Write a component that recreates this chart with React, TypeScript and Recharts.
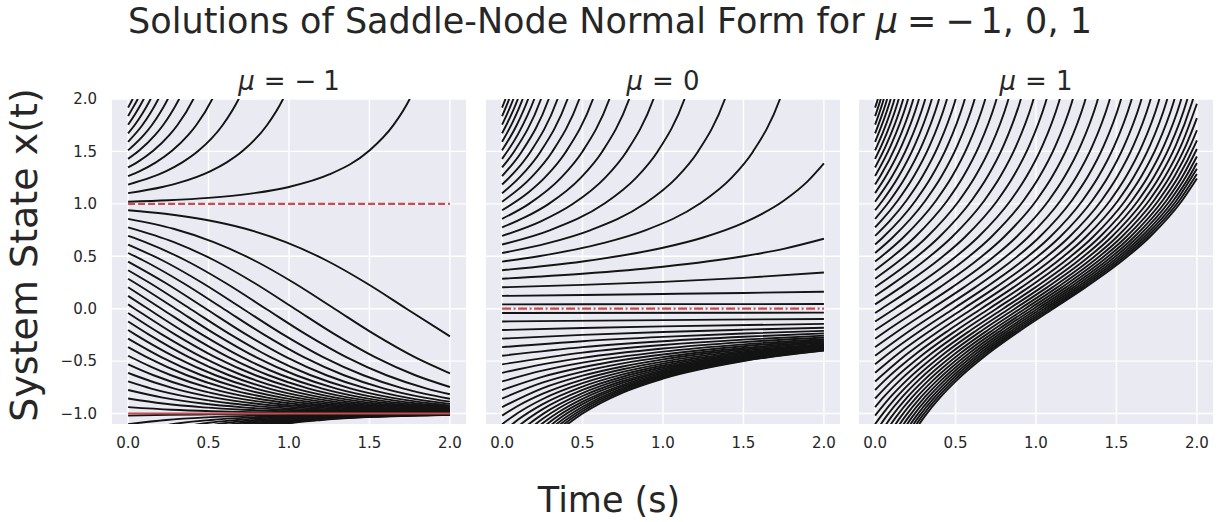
import { LineChart, Line, XAxis, YAxis, CartesianGrid } from 'recharts';

// each curve is a list of [t, x] points
const muMinusCurves = [
  [[0.851, -1.135], [0.951, -1.105], [1.201, -1.062], [1.451, -1.037], [1.951, -1.014], [2, -1.012]],
  [[0.822, -1.135], [0.922, -1.105], [1.172, -1.062], [1.422, -1.037], [1.922, -1.014], [2, -1.012]],
  [[0.79, -1.135], [0.89, -1.105], [1.14, -1.062], [1.39, -1.037], [1.89, -1.014], [2, -1.011]],
  [[0.753, -1.135], [0.853, -1.105], [1.103, -1.062], [1.353, -1.037], [1.853, -1.014], [2, -1.01]],
  [[0.71, -1.135], [0.81, -1.105], [1.06, -1.062], [1.31, -1.037], [1.81, -1.014], [2, -1.009]],
  [[0.662, -1.135], [0.762, -1.105], [1.012, -1.062], [1.262, -1.037], [1.762, -1.014], [2, -1.008]],
  [[0.603, -1.135], [0.703, -1.105], [0.953, -1.062], [1.203, -1.037], [1.703, -1.014], [2, -1.008]],
  [[0.533, -1.135], [0.633, -1.105], [0.883, -1.062], [1.133, -1.037], [1.633, -1.014], [2, -1.007]],
  [[0.444, -1.135], [0.544, -1.105], [0.794, -1.062], [1.044, -1.037], [1.544, -1.014], [2, -1.005]],
  [[0.327, -1.135], [0.427, -1.105], [0.677, -1.062], [0.927, -1.037], [1.427, -1.014], [1.927, -1.005], [2, -1.004]],
  [[0, -1.184], [0.163, -1.135], [0.263, -1.105], [0.513, -1.062], [0.763, -1.037], [1.263, -1.014], [1.763, -1.005], [2, -1.003]],
  [[0, -1.102], [0.237, -1.062], [0.487, -1.037], [0.987, -1.014], [1.487, -1.005], [2, -1.002]],
  [[0, -1.02], [0.25, -1.012], [0.5, -1.008], [1, -1.003], [2, -1.0]],
  [[0, -0.939], [0.27, -0.964], [0.52, -0.978], [0.77, -0.987], [1.02, -0.992], [1.27, -0.995], [1.77, -0.998], [2, -0.998]],
  [[0, -0.857], [0.218, -0.905], [0.468, -0.941], [0.718, -0.964], [0.968, -0.978], [1.218, -0.987], [1.468, -0.992], [1.718, -0.995], [2, -0.996]],
  [[0, -0.776], [0.215, -0.848], [0.465, -0.905], [0.715, -0.941], [0.965, -0.964], [1.215, -0.978], [1.465, -0.987], [1.715, -0.992], [2, -0.994]],
  [[0, -0.694], [0.144, -0.762], [0.394, -0.848], [0.644, -0.905], [0.894, -0.941], [1.144, -0.964], [1.394, -0.978], [1.644, -0.987], [1.894, -0.992], [2, -0.993]],
  [[0, -0.612], [0.038, -0.635], [0.288, -0.762], [0.538, -0.848], [0.788, -0.905], [1.038, -0.941], [1.288, -0.964], [1.538, -0.978], [1.788, -0.987], [2, -0.991]],
  [[0, -0.531], [0.158, -0.635], [0.408, -0.762], [0.658, -0.848], [0.908, -0.905], [1.158, -0.941], [1.408, -0.964], [1.658, -0.978], [1.908, -0.987], [2, -0.989]],
  [[0, -0.449], [0.133, -0.548], [0.267, -0.635], [0.517, -0.762], [0.767, -0.848], [1.017, -0.905], [1.267, -0.941], [1.517, -0.964], [1.767, -0.978], [2, -0.986]],
  [[0, -0.367], [0.115, -0.462], [0.365, -0.635], [0.615, -0.762], [0.865, -0.848], [1.115, -0.905], [1.365, -0.941], [1.615, -0.964], [1.865, -0.978], [2, -0.983]],
  [[0, -0.286], [0.206, -0.462], [0.456, -0.635], [0.706, -0.762], [0.956, -0.848], [1.206, -0.905], [1.456, -0.941], [1.706, -0.964], [2, -0.98]],
  [[0, -0.204], [0.043, -0.245], [0.293, -0.462], [0.543, -0.635], [0.793, -0.762], [1.043, -0.848], [1.293, -0.905], [1.543, -0.941], [1.793, -0.964], [2, -0.976]],
  [[0, -0.122], [0.127, -0.245], [0.377, -0.462], [0.627, -0.635], [0.877, -0.762], [1.127, -0.848], [1.377, -0.905], [1.627, -0.941], [1.877, -0.964], [2, -0.972]],
  [[0, -0.041], [0.209, -0.245], [0.459, -0.462], [0.709, -0.635], [0.959, -0.762], [1.209, -0.848], [1.459, -0.905], [1.709, -0.941], [1.959, -0.964], [2, -0.967]],
  [[0, 0.041], [0.041, 0], [0.291, -0.245], [0.541, -0.462], [0.791, -0.635], [1.041, -0.762], [1.291, -0.848], [1.541, -0.905], [1.791, -0.941], [2, -0.961]],
  [[0, 0.122], [0.123, 0], [0.373, -0.245], [0.623, -0.462], [0.873, -0.635], [1.123, -0.762], [1.373, -0.848], [1.623, -0.905], [1.873, -0.941], [2, -0.954]],
  [[0, 0.204], [0.207, 0], [0.457, -0.245], [0.707, -0.462], [0.957, -0.635], [1.207, -0.762], [1.457, -0.848], [1.707, -0.905], [2, -0.946]],
  [[0, 0.286], [0.044, 0.245], [0.294, 0], [0.544, -0.245], [0.794, -0.462], [1.044, -0.635], [1.294, -0.762], [1.544, -0.848], [1.794, -0.905], [2, -0.936]],
  [[0, 0.367], [0.135, 0.245], [0.385, 0], [0.635, -0.245], [0.885, -0.462], [1.135, -0.635], [1.385, -0.762], [1.635, -0.848], [1.885, -0.905], [2, -0.924]],
  [[0, 0.449], [0.233, 0.245], [0.483, 0], [0.733, -0.245], [0.983, -0.462], [1.233, -0.635], [1.483, -0.762], [1.733, -0.848], [2, -0.908]],
  [[0, 0.531], [0.092, 0.462], [0.342, 0.245], [0.592, 0], [0.842, -0.245], [1.092, -0.462], [1.342, -0.635], [1.592, -0.762], [1.842, -0.848], [2, -0.887]],
  [[0, 0.612], [0.212, 0.462], [0.462, 0.245], [0.712, 0], [0.962, -0.245], [1.212, -0.462], [1.462, -0.635], [1.712, -0.762], [2, -0.859]],
  [[0, 0.694], [0.106, 0.635], [0.356, 0.462], [0.606, 0.245], [0.856, 0], [1.106, -0.245], [1.356, -0.462], [1.606, -0.635], [1.856, -0.762], [2, -0.816]],
  [[0, 0.776], [0.285, 0.635], [0.535, 0.462], [0.785, 0.245], [1.035, 0], [1.285, -0.245], [1.535, -0.462], [1.785, -0.635], [2, -0.747]],
  [[0, 0.857], [0.282, 0.762], [0.532, 0.635], [0.782, 0.462], [1.032, 0.245], [1.282, 0], [1.532, -0.245], [1.782, -0.462], [2, -0.616]],
  [[0, 0.939], [0.23, 0.905], [0.48, 0.848], [0.73, 0.762], [0.98, 0.635], [1.23, 0.462], [1.48, 0.245], [1.73, 0], [2, -0.264]],
  [[0, 1.02], [0.25, 1.034], [0.5, 1.057], [0.75, 1.095], [1, 1.161], [1.25, 1.28], [1.5, 1.508], [1.65, 1.753], [1.75, 2.0], [1.85, 2.37]],
  [[0, 1.102], [0.213, 1.161], [0.313, 1.2], [0.513, 1.313], [0.613, 1.396], [0.713, 1.506], [0.863, 1.75], [0.963, 2.0], [1.063, 2.37]],
  [[0, 1.184], [0.137, 1.249], [0.237, 1.313], [0.337, 1.396], [0.437, 1.506], [0.587, 1.75], [0.687, 2.0], [0.787, 2.37]],
  [[0, 1.265], [0.073, 1.313], [0.173, 1.396], [0.273, 1.506], [0.373, 1.655], [0.423, 1.75], [0.523, 2.0], [0.623, 2.37]],
  [[0, 1.347], [0.056, 1.396], [0.156, 1.506], [0.256, 1.655], [0.306, 1.75], [0.406, 2.0], [0.506, 2.37]],
  [[0, 1.429], [0.067, 1.506], [0.167, 1.655], [0.217, 1.75], [0.267, 1.864], [0.317, 2.0], [0.417, 2.37]],
  [[0, 1.51], [0.097, 1.655], [0.147, 1.75], [0.197, 1.864], [0.247, 2.0], [0.347, 2.37]],
  [[0, 1.592], [0.088, 1.75], [0.138, 1.864], [0.188, 2.0], [0.288, 2.37]],
  [[0, 1.673], [0.04, 1.75], [0.09, 1.864], [0.14, 2.0], [0.24, 2.37]],
  [[0, 1.755], [0.047, 1.864], [0.097, 2.0], [0.197, 2.37]],
  [[0, 1.837], [0.01, 1.864], [0.06, 2.0], [0.16, 2.37]],
  [[0, 1.918], [0.028, 2.0], [0.128, 2.37]],
];

const muZeroCurves = [
  [[0.25, -1.333], [0.4, -1.111], [0.5, -1.0], [0.75, -0.8], [1, -0.667], [1.5, -0.5], [2, -0.4]],
  [[0.25, -1.297], [0.4, -1.085], [0.5, -0.979], [0.75, -0.787], [1, -0.657], [1.5, -0.495], [2, -0.397]],
  [[0.2, -1.343], [0.35, -1.118], [0.5, -0.957], [0.75, -0.773], [1, -0.648], [1.5, -0.489], [2, -0.393]],
  [[0.2, -1.299], [0.35, -1.087], [0.5, -0.935], [0.75, -0.758], [1, -0.637], [1.5, -0.483], [2, -0.389]],
  [[0.2, -1.254], [0.35, -1.055], [0.5, -0.911], [0.75, -0.742], [1, -0.626], [1.5, -0.477], [2, -0.385]],
  [[0.1, -1.374], [0.25, -1.139], [0.35, -1.022], [0.5, -0.887], [0.75, -0.726], [1, -0.614], [1.5, -0.47], [2, -0.381]],
  [[0.1, -1.312], [0.25, -1.096], [0.35, -0.988], [0.5, -0.86], [0.75, -0.708], [1, -0.602], [1.5, -0.463], [2, -0.376]],
  [[0, -1.429], [0.1, -1.25], [0.25, -1.053], [0.35, -0.952], [0.5, -0.833], [0.75, -0.69], [1, -0.588], [1.5, -0.455], [2, -0.37]],
  [[0, -1.347], [0.1, -1.187], [0.25, -1.008], [0.5, -0.805], [0.75, -0.67], [1, -0.574], [1.5, -0.446], [2, -0.365]],
  [[0, -1.265], [0.1, -1.123], [0.25, -0.961], [0.5, -0.775], [0.75, -0.649], [1, -0.559], [1.5, -0.437], [2, -0.359]],
  [[0, -1.184], [0.1, -1.058], [0.25, -0.913], [0.5, -0.743], [0.75, -0.627], [1, -0.542], [1.5, -0.426], [2, -0.351]],
  [[0, -1.102], [0.1, -0.993], [0.25, -0.864], [0.5, -0.711], [0.75, -0.603], [1, -0.524], [1.5, -0.415], [2, -0.344]],
  [[0, -1.02], [0.1, -0.926], [0.25, -0.813], [0.5, -0.676], [0.75, -0.578], [1, -0.505], [1.5, -0.403], [2, -0.336]],
  [[0, -0.939], [0.25, -0.76], [0.5, -0.639], [0.75, -0.551], [1, -0.484], [1.5, -0.39], [2, -0.326]],
  [[0, -0.857], [0.25, -0.706], [0.5, -0.6], [0.75, -0.522], [1, -0.462], [1.5, -0.375], [2, -0.316]],
  [[0, -0.776], [0.25, -0.65], [0.5, -0.559], [0.75, -0.49], [1, -0.437], [1.5, -0.358], [2, -0.304]],
  [[0, -0.694], [0.25, -0.591], [0.5, -0.515], [1, -0.41], [1.5, -0.34], [2, -0.291]],
  [[0, -0.612], [0.25, -0.531], [0.5, -0.469], [1, -0.38], [1.5, -0.319], [2, -0.275]],
  [[0, -0.531], [0.5, -0.419], [1, -0.347], [1.5, -0.295], [2, -0.257]],
  [[0, -0.449], [0.5, -0.367], [1, -0.31], [1.5, -0.268], [2, -0.236]],
  [[0, -0.367], [0.5, -0.31], [1, -0.269], [1.5, -0.237], [2, -0.212]],
  [[0, -0.286], [0.5, -0.25], [1, -0.222], [1.5, -0.2], [2, -0.182]],
  [[0, -0.204], [0.5, -0.185], [1, -0.169], [2, -0.145]],
  [[0, -0.122], [1, -0.109], [2, -0.098]],
  [[0, -0.041], [2, -0.038]],
  [[0, 0.041], [1, 0.043], [2, 0.044]],
  [[0, 0.122], [0.5, 0.13], [1, 0.14], [1.5, 0.15], [2, 0.162]],
  [[0, 0.204], [0.5, 0.227], [1, 0.256], [1.5, 0.294], [2, 0.345]],
  [[0, 0.286], [0.5, 0.333], [1, 0.4], [1.5, 0.5], [1.75, 0.571], [2, 0.667]],
  [[0, 0.367], [0.5, 0.45], [1, 0.581], [1.25, 0.679], [1.5, 0.818], [1.75, 1.029], [1.9, 1.216], [2, 1.385]],
  [[0, 0.449], [0.227, 0.5], [0.627, 0.625], [0.894, 0.75], [1.227, 1.0], [1.427, 1.25], [1.56, 1.5], [1.727, 2.0], [1.827, 2.5]],
  [[0, 0.531], [0.285, 0.625], [0.551, 0.75], [0.885, 1.0], [1.085, 1.25], [1.218, 1.5], [1.385, 2.0], [1.485, 2.5]],
  [[0, 0.612], [0.3, 0.75], [0.634, 1.0], [0.834, 1.25], [0.967, 1.5], [1.134, 2.0], [1.234, 2.5]],
  [[0, 0.694], [0.241, 0.833], [0.441, 1.0], [0.641, 1.25], [0.774, 1.5], [0.941, 2.0], [1.041, 2.5]],
  [[0, 0.776], [0.14, 0.87], [0.29, 1.0], [0.49, 1.25], [0.623, 1.5], [0.79, 2.0], [0.89, 2.5]],
  [[0, 0.857], [0.167, 1.0], [0.367, 1.25], [0.5, 1.5], [0.667, 2.0], [0.767, 2.5]],
  [[0, 0.939], [0.165, 1.111], [0.265, 1.25], [0.398, 1.5], [0.565, 2.0], [0.665, 2.5]],
  [[0, 1.02], [0.18, 1.25], [0.313, 1.5], [0.48, 2.0], [0.58, 2.5]],
  [[0, 1.102], [0.107, 1.25], [0.24, 1.5], [0.407, 2.0], [0.507, 2.5]],
  [[0, 1.184], [0.095, 1.333], [0.178, 1.5], [0.345, 2.0], [0.445, 2.5]],
  [[0, 1.265], [0.123, 1.5], [0.29, 2.0], [0.39, 2.5]],
  [[0, 1.347], [0.075, 1.5], [0.242, 2.0], [0.342, 2.5]],
  [[0, 1.429], [0.1, 1.667], [0.2, 2.0], [0.3, 2.5]],
  [[0, 1.51], [0.092, 1.754], [0.162, 2.0], [0.262, 2.5]],
  [[0, 1.592], [0.068, 1.786], [0.128, 2.0], [0.228, 2.5]],
  [[0, 1.673], [0.098, 2.0], [0.198, 2.5]],
  [[0, 1.755], [0.07, 2.0], [0.17, 2.5]],
  [[0, 1.837], [0.044, 2.0], [0.144, 2.5]],
  [[0, 1.918], [0.021, 2.0], [0.121, 2.5]],
];

const muPlusCurves = [
  [[0.207, -1.26], [0.307, -1.03], [0.407, -0.842], [0.507, -0.684], [0.707, -0.423], [0.907, -0.203], [1.107, 0], [1.307, 0.203], [1.507, 0.423], [1.707, 0.684], [1.907, 1.03], [2, 1.242]],
  [[0.19, -1.26], [0.29, -1.03], [0.39, -0.842], [0.49, -0.684], [0.69, -0.423], [0.89, -0.203], [1.09, 0], [1.29, 0.203], [1.49, 0.423], [1.69, 0.684], [1.89, 1.03], [2, 1.285]],
  [[0.172, -1.26], [0.272, -1.03], [0.372, -0.842], [0.472, -0.684], [0.672, -0.423], [0.872, -0.203], [1.072, 0], [1.272, 0.203], [1.472, 0.423], [1.672, 0.684], [1.872, 1.03], [2, 1.334]],
  [[0.153, -1.26], [0.253, -1.03], [0.353, -0.842], [0.453, -0.684], [0.653, -0.423], [0.853, -0.203], [1.053, 0], [1.253, 0.203], [1.453, 0.423], [1.653, 0.684], [1.853, 1.03], [1.953, 1.26], [2, 1.389]],
  [[0.132, -1.26], [0.232, -1.03], [0.332, -0.842], [0.432, -0.684], [0.632, -0.423], [0.832, -0.203], [1.032, 0], [1.232, 0.203], [1.432, 0.423], [1.632, 0.684], [1.832, 1.03], [1.932, 1.26], [2, 1.452]],
  [[0.11, -1.26], [0.21, -1.03], [0.31, -0.842], [0.41, -0.684], [0.61, -0.423], [0.81, -0.203], [1.01, 0], [1.21, 0.203], [1.41, 0.423], [1.61, 0.684], [1.81, 1.03], [1.91, 1.26], [2, 1.523]],
  [[0.086, -1.26], [0.186, -1.03], [0.286, -0.842], [0.386, -0.684], [0.586, -0.423], [0.786, -0.203], [0.986, 0], [1.186, 0.203], [1.386, 0.423], [1.586, 0.684], [1.786, 1.03], [1.886, 1.26], [1.986, 1.557], [2, 1.606]],
  [[0.06, -1.26], [0.16, -1.03], [0.26, -0.842], [0.36, -0.684], [0.56, -0.423], [0.76, -0.203], [0.96, 0], [1.16, 0.203], [1.36, 0.423], [1.56, 0.684], [1.76, 1.03], [1.86, 1.26], [1.96, 1.557], [2, 1.702]],
  [[0, -1.347], [0.032, -1.26], [0.132, -1.03], [0.232, -0.842], [0.332, -0.684], [0.532, -0.423], [0.732, -0.203], [0.932, 0], [1.132, 0.203], [1.332, 0.423], [1.532, 0.684], [1.732, 1.03], [1.832, 1.26], [1.932, 1.557], [2, 1.817]],
  [[0, -1.265], [0.102, -1.03], [0.202, -0.842], [0.302, -0.684], [0.502, -0.423], [0.702, -0.203], [0.902, 0], [1.102, 0.203], [1.302, 0.423], [1.502, 0.684], [1.702, 1.03], [1.802, 1.26], [1.902, 1.557], [2, 1.955]],
  [[0, -1.184], [0.069, -1.03], [0.169, -0.842], [0.269, -0.684], [0.469, -0.423], [0.669, -0.203], [0.869, 0], [1.069, 0.203], [1.269, 0.423], [1.469, 0.684], [1.669, 1.03], [1.769, 1.26], [1.869, 1.557], [1.969, 1.965], [2, 2.12]],
  [[0, -1.102], [0.034, -1.03], [0.134, -0.842], [0.234, -0.684], [0.434, -0.423], [0.634, -0.203], [0.834, 0], [1.034, 0.203], [1.234, 0.423], [1.434, 0.684], [1.634, 1.03], [1.734, 1.26], [1.834, 1.557], [1.934, 1.965], [2, 2.34]],
  [[0, -1.02], [0.096, -0.842], [0.196, -0.684], [0.396, -0.423], [0.596, -0.203], [0.796, 0], [0.996, 0.203], [1.196, 0.423], [1.396, 0.684], [1.596, 1.03], [1.696, 1.26], [1.796, 1.557], [1.896, 1.965], [1.996, 2.572]],
  [[0, -0.939], [0.054, -0.842], [0.154, -0.684], [0.354, -0.423], [0.554, -0.203], [0.754, 0], [0.954, 0.203], [1.154, 0.423], [1.354, 0.684], [1.554, 1.03], [1.654, 1.26], [1.754, 1.557], [1.854, 1.965], [1.954, 2.572]],
  [[0, -0.857], [0.109, -0.684], [0.309, -0.423], [0.509, -0.203], [0.709, 0], [0.909, 0.203], [1.109, 0.423], [1.309, 0.684], [1.509, 1.03], [1.609, 1.26], [1.709, 1.557], [1.809, 1.965], [1.909, 2.572]],
  [[0, -0.776], [0.06, -0.684], [0.26, -0.423], [0.46, -0.203], [0.66, 0], [0.86, 0.203], [1.06, 0.423], [1.26, 0.684], [1.46, 1.03], [1.56, 1.26], [1.66, 1.557], [1.76, 1.965], [1.86, 2.572]],
  [[0, -0.694], [0.206, -0.423], [0.406, -0.203], [0.606, 0], [0.806, 0.203], [1.006, 0.423], [1.206, 0.684], [1.406, 1.03], [1.506, 1.26], [1.606, 1.557], [1.706, 1.965], [1.806, 2.572]],
  [[0, -0.612], [0.149, -0.423], [0.349, -0.203], [0.549, 0], [0.749, 0.203], [0.949, 0.423], [1.149, 0.684], [1.349, 1.03], [1.449, 1.26], [1.549, 1.557], [1.649, 1.965], [1.749, 2.572]],
  [[0, -0.531], [0.088, -0.423], [0.288, -0.203], [0.488, 0], [0.688, 0.203], [0.888, 0.423], [1.088, 0.684], [1.288, 1.03], [1.388, 1.26], [1.488, 1.557], [1.588, 1.965], [1.688, 2.572]],
  [[0, -0.449], [0.222, -0.203], [0.422, 0], [0.622, 0.203], [0.822, 0.423], [1.022, 0.684], [1.222, 1.03], [1.322, 1.26], [1.422, 1.557], [1.522, 1.965], [1.622, 2.572]],
  [[0, -0.367], [0.152, -0.203], [0.352, 0], [0.552, 0.203], [0.752, 0.423], [0.952, 0.684], [1.152, 1.03], [1.252, 1.26], [1.352, 1.557], [1.452, 1.965], [1.552, 2.572]],
  [[0, -0.286], [0.078, -0.203], [0.278, 0], [0.478, 0.203], [0.678, 0.423], [0.878, 0.684], [1.078, 1.03], [1.178, 1.26], [1.278, 1.557], [1.378, 1.965], [1.478, 2.572]],
  [[0, -0.204], [0.201, 0], [0.401, 0.203], [0.601, 0.423], [0.801, 0.684], [1.001, 1.03], [1.101, 1.26], [1.201, 1.557], [1.301, 1.965], [1.401, 2.572]],
  [[0, -0.122], [0.122, 0], [0.322, 0.203], [0.522, 0.423], [0.722, 0.684], [0.922, 1.03], [1.022, 1.26], [1.122, 1.557], [1.222, 1.965], [1.322, 2.572]],
  [[0, -0.041], [0.041, 0], [0.241, 0.203], [0.441, 0.423], [0.641, 0.684], [0.841, 1.03], [0.941, 1.26], [1.041, 1.557], [1.141, 1.965], [1.241, 2.572]],
  [[0, 0.041], [0.159, 0.203], [0.359, 0.423], [0.559, 0.684], [0.759, 1.03], [0.859, 1.26], [0.959, 1.557], [1.059, 1.965], [1.159, 2.572]],
  [[0, 0.122], [0.078, 0.203], [0.278, 0.423], [0.478, 0.684], [0.678, 1.03], [0.778, 1.26], [0.878, 1.557], [0.978, 1.965], [1.078, 2.572]],
  [[0, 0.204], [0.199, 0.423], [0.399, 0.684], [0.599, 1.03], [0.699, 1.26], [0.799, 1.557], [0.899, 1.965], [0.999, 2.572]],
  [[0, 0.286], [0.122, 0.423], [0.322, 0.684], [0.522, 1.03], [0.622, 1.26], [0.722, 1.557], [0.822, 1.965], [0.922, 2.572]],
  [[0, 0.367], [0.048, 0.423], [0.248, 0.684], [0.448, 1.03], [0.548, 1.26], [0.648, 1.557], [0.748, 1.965], [0.848, 2.572]],
  [[0, 0.449], [0.178, 0.684], [0.378, 1.03], [0.478, 1.26], [0.578, 1.557], [0.678, 1.965], [0.778, 2.572]],
  [[0, 0.531], [0.112, 0.684], [0.312, 1.03], [0.412, 1.26], [0.512, 1.557], [0.612, 1.965], [0.712, 2.572]],
  [[0, 0.612], [0.051, 0.684], [0.251, 1.03], [0.351, 1.26], [0.451, 1.557], [0.551, 1.965], [0.651, 2.572]],
  [[0, 0.694], [0.094, 0.842], [0.194, 1.03], [0.294, 1.26], [0.394, 1.557], [0.494, 1.965], [0.594, 2.572]],
  [[0, 0.776], [0.04, 0.842], [0.14, 1.03], [0.24, 1.26], [0.34, 1.557], [0.44, 1.965], [0.54, 2.572]],
  [[0, 0.857], [0.091, 1.03], [0.191, 1.26], [0.291, 1.557], [0.391, 1.965], [0.491, 2.572]],
  [[0, 0.939], [0.046, 1.03], [0.146, 1.26], [0.246, 1.557], [0.346, 1.965], [0.446, 2.572]],
  [[0, 1.02], [0.105, 1.26], [0.205, 1.557], [0.305, 1.965], [0.405, 2.572]],
  [[0, 1.102], [0.066, 1.26], [0.166, 1.557], [0.266, 1.965], [0.366, 2.572]],
  [[0, 1.184], [0.031, 1.26], [0.131, 1.557], [0.231, 1.965], [0.331, 2.572]],
  [[0, 1.265], [0.098, 1.557], [0.198, 1.965], [0.298, 2.572]],
  [[0, 1.347], [0.068, 1.557], [0.168, 1.965], [0.268, 2.572]],
  [[0, 1.429], [0.04, 1.557], [0.14, 1.965], [0.24, 2.572]],
  [[0, 1.51], [0.014, 1.557], [0.114, 1.965], [0.214, 2.572]],
  [[0, 1.592], [0.09, 1.965], [0.19, 2.572]],
  [[0, 1.673], [0.068, 1.965], [0.168, 2.572]],
  [[0, 1.755], [0.047, 1.965], [0.147, 2.572]],
  [[0, 1.837], [0.028, 1.965], [0.128, 2.572]],
  [[0, 1.918], [0.01, 1.965], [0.11, 2.572]],
];

// fixed points
const stableMinus = [[0, -1], [2, -1]];
const unstableMinus = [[0, 1], [2, 1]];
const semiZero = [[0, 0], [2, 0]];

const timeTicks = [0, 0.5, 1, 1.5, 2];
const stateTicks = [-1, -0.5, 0, 0.5, 1, 1.5, 2];

const FONT = 'DejaVu Sans';
const TEXT = '#262626';
const RED = '#C44E52';

const fmt = (v: number) => (v < 0 ? '\u2212' : '') + Math.abs(v).toFixed(1);
const toPoints = (pts: number[][]) => pts.map(([t, x]) => ({ t, x }));

interface FixedLine {
  pts: number[][];
  dash?: string;
}

interface PanelProps {
  curves: number[][][];
  fixed: FixedLine[];
  left: number;
  width: number;
  margin: { top: number; right: number; bottom: number; left: number };
  showY: boolean;
}

function Panel({ curves, fixed, left, width, margin, showY }: PanelProps) {
  return (
    <div style={{ position: 'absolute', left, top: 0 }}>
      <LineChart width={width} height={470} margin={margin}>
        <CartesianGrid
          fill="#EAEAF2"
          stroke="#ffffff"
          strokeWidth={1.4}
          horizontalValues={stateTicks}
          verticalValues={timeTicks}
        />
        <XAxis
          type="number"
          dataKey="t"
          domain={[-0.1, 2.1]}
          allowDataOverflow
          ticks={timeTicks}
          tickFormatter={fmt}
          axisLine={false}
          tickLine={false}
          tickSize={0}
          tickMargin={13}
          height={30}
          tick={{ fill: TEXT, fontSize: 15, fontFamily: FONT }}
        />
        <YAxis
          type="number"
          domain={[-1.1, 2]}
          allowDataOverflow
          ticks={stateTicks}
          tickFormatter={fmt}
          hide={!showY}
          width={showY ? 60 : 0}
          axisLine={false}
          tickLine={false}
          tickSize={0}
          tickMargin={15}
          tick={{ fill: TEXT, fontSize: 15, fontFamily: FONT }}
        />
        {curves.map((c, i) => (
          <Line
            key={`c${i}`}
            data={toPoints(c)}
            dataKey="x"
            type="monotone"
            stroke="#141414"
            strokeWidth={1.9}
            dot={false}
            activeDot={false}
            isAnimationActive={false}
          />
        ))}
        {fixed.map((f, i) => (
          <Line
            key={`f${i}`}
            data={toPoints(f.pts)}
            dataKey="x"
            type="linear"
            stroke={RED}
            strokeWidth={2.2}
            strokeDasharray={f.dash}
            dot={false}
            activeDot={false}
            isAnimationActive={false}
          />
        ))}
      </LineChart>
    </div>
  );
}

function MuTitle({ x, value }: { x: number; value: string }) {
  return (
    <text x={x} y={90} textAnchor="middle" fontSize={26} fill={TEXT} fontFamily={FONT}>
      <tspan fontStyle="italic">μ</tspan>
      <tspan dx={9}>=</tspan>
      {value.startsWith('\u2212') ? (
        <>
          <tspan dx={9}>{'\u2212'}</tspan>
          <tspan dx={7}>{value.slice(1)}</tspan>
        </>
      ) : (
        <tspan dx={9}>{value}</tspan>
      )}
    </text>
  );
}

export default function App() {
  return (
    <div style={{ position: 'absolute', left: 0, top: 0, width: 1225, height: 522, background: '#ffffff' }}>
      <Panel
        curves={muMinusCurves}
        fixed={[{ pts: stableMinus }, { pts: unstableMinus, dash: '7 3' }]}
        left={0}
        width={480}
        margin={{ top: 99, right: 14, bottom: 16, left: 52 }}
        showY
      />
      <Panel
        curves={muZeroCurves}
        fixed={[{ pts: semiZero, dash: '9 2.5 2 2.5' }]}
        left={476}
        width={380}
        margin={{ top: 99, right: 16, bottom: 16, left: 10 }}
        showY={false}
      />
      <Panel
        curves={muPlusCurves}
        fixed={[]}
        left={849}
        width={376}
        margin={{ top: 99, right: 12, bottom: 16, left: 10 }}
        showY={false}
      />
      <svg width={1225} height={522} style={{ position: 'absolute', left: 0, top: 0, pointerEvents: 'none' }}>
        <text x={610} y={33} textAnchor="middle" fontSize={35} fill={TEXT} fontFamily={FONT}>
          Solutions of Saddle-Node Normal Form for <tspan fontStyle="italic">μ</tspan>
          <tspan dx={9}>=</tspan>
          <tspan dx={9}>{'\u2212'}</tspan>
          <tspan dx={6}>1, 0, 1</tspan>
        </text>
        <MuTitle x={289} value={'\u22121'} />
        <MuTitle x={663} value="0" />
        <MuTitle x={1036} value="1" />
        <text
          transform="rotate(-90)"
          x={-255}
          y={37}
          textAnchor="middle"
          fontSize={38}
          fill={TEXT}
          fontFamily={FONT}
        >
          System State x(t)
        </text>
        <text x={609} y={512} textAnchor="middle" fontSize={35} fill={TEXT} fontFamily={FONT}>
          Time (s)
        </text>
      </svg>
    </div>
  );
}
